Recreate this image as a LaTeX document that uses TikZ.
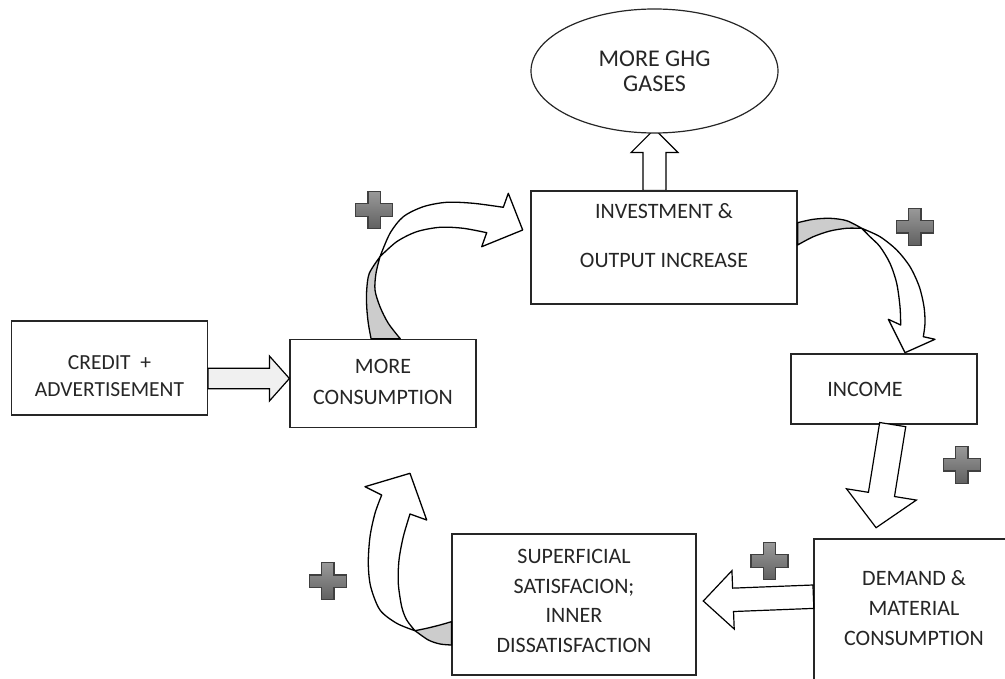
\documentclass[tikz,border=0pt]{standalone}
\usepackage{fontspec}
\setmainfont{Carlito}
\usetikzlibrary{calc, shapes.geometric}
\pgfdeclarelayer{background}
\pgfsetlayers{background,main}

\newcommand{\boxfont}{\fontsize{22}{28}\selectfont}

% straight block arrow: [style] {from} {to} {shaft half width} {head half width} {head length}
\newcommand{\blockarrow}[6][]{%
  \coordinate (ba-base) at ($(#3)!#6!(#2)$);
  \filldraw[blk, #1]
    ($(#2)!#4!90:(#3)$) -- ($(ba-base)!#4!90:(#3)$) -- ($(ba-base)!#5!90:(#3)$) -- (#3)
    -- ($(ba-base)!#5!-90:(#3)$) -- ($(ba-base)!#4!-90:(#3)$) -- ($(#2)!#4!-90:(#3)$) -- cycle;
}

\tikzset{
  % Plain box (its text comes in as a centred label)
  box/.style={
    draw=black!85, line width=1.2pt, fill=white, inner sep=0pt
  },
  % Oval box
  oval/.style={
    ellipse, draw=black!85, line width=1.2pt, fill=white, inner sep=0pt
  },
  % Text inside the boxes
  boxtext/.style={
    align=center, inner sep=0pt, text=black!85, font=\boxfont
  },
  % Straight block arrow
  blk/.style={
    draw=black, line width=1.2pt, fill=white, line join=miter
  },
  % Curved ribbon arrow, front side
  ribbon/.style={
    draw=black, line width=1.3pt, fill=white, line join=round
  },
  % Curved ribbon arrow, twisted back side
  ribbonback/.style={
    ribbon, fill=black!20
  },
  % Grey plus mark
  plusmark/.style={
    draw=black!75, line width=1.1pt, top color=black!40, bottom color=black!62
  },
  plus/.pic={
    \draw[plusmark] (-6.3,-18.5) -- (6.3,-18.5) -- (6.3,-6.3) -- (18.5,-6.3)
      -- (18.5,6.3) -- (6.3,6.3) -- (6.3,18.5) -- (-6.3,18.5) -- (-6.3,6.3)
      -- (-18.5,6.3) -- (-18.5,-6.3) -- (-6.3,-6.3) -- cycle;
  }
}

\begin{document}
\begin{tikzpicture}[x=1pt, y=-1pt]

\useasboundingbox (0,0) rectangle (1005,679);
\clip (0,0) rectangle (1005,679);

% ============================================================
% BOXES
% ============================================================
\node[oval, minimum width=247, minimum height=124,
  label={[boxtext, font={\fontsize{24}{25}\selectfont}]center:{MORE GHG\\GASES}}]
  (ghg) at (654.5,71) {};

\node[box, minimum width=266, minimum height=113,
  label={[boxtext, yshift=12pt, font={\fontsize{22}{48.5}\selectfont}]center:{INVESTMENT \&\\OUTPUT INCREASE}}]
  (invest) at (664,247.5) {};

\node[box, minimum width=196, minimum height=94,
  label={[boxtext, yshift=-8pt, font={\fontsize{21.5}{26.5}\selectfont}]center:{CREDIT\ \ +\\ADVERTISEMENT}}]
  (credit) at (109.5,368) {};

\node[box, minimum width=186, minimum height=88,
  label={[boxtext, yshift=1.5pt, font={\fontsize{22}{31}\selectfont}]center:{MORE\\CONSUMPTION}}]
  (cons) at (383,383.5) {};

\node[box, minimum width=186, minimum height=70,
  label={[boxtext, xshift=-19pt]center:{INCOME}}]
  (income) at (884,389) {};

\node[box, minimum width=200, minimum height=142,
  label={[boxtext, yshift=1.5pt, font={\fontsize{22}{30}\selectfont}]center:{DEMAND \&\\MATERIAL\\CONSUMPTION}}]
  (demand) at (914,610) {};

\node[box, minimum width=244, minimum height=141,
  label={[boxtext, yshift=3.5pt, font={\fontsize{22}{29.5}\selectfont}]center:{SUPERFICIAL\\SATISFACION;\\INNER\\DISSATISFACTION}}]
  (satis) at (574,604.5) {};

% ============================================================
% STRAIGHT BLOCK ARROWS
% ============================================================

% investment up into the oval (tip hidden behind the oval)
\coordinate (up-from) at (ghg.center |- invest.north);
\coordinate (up-to)   at ($(ghg.south)+(0,-4.5)$);
\begin{pgfonlayer}{background}
\blockarrow{up-from}{up-to}{11.5pt}{23.5pt}{23.5pt}
\end{pgfonlayer}

% credit into consumption
\coordinate (cr-from) at ($(credit.east)+(0,10.5)$);
\coordinate (cr-to)   at ($(cons.west)+(0,-5)$);
\blockarrow[fill=black!6]{cr-from}{cr-to}{10.3pt}{22.5pt}{20pt}

% income down to demand
\coordinate (in-from) at ($(income.south)+(8.7,0)$);
\coordinate (in-to)   at ($(demand.north west)+(62.7,-10.7)$);
\blockarrow{in-from}{in-to}{13.2pt}{35.4pt}{33.7pt}

% demand left to satisfaction
\coordinate (dm-from) at ($(demand.west)+(0,-13.3)$);
\coordinate (dm-to)   at ($(satis.east)+(6.7,-3.5)$);
\blockarrow{dm-from}{dm-to}{11.7pt}{29.2pt}{29.8pt}

% ============================================================
% CURVED RIBBON ARROWS
% ============================================================

% consumption -> investment
\coordinate (c1a) at ($(cons.north west)+(81.7,0)$);
\coordinate (c1b) at ($(cons.north west)+(111,0)$);
\coordinate (c1t) at ($(invest.west)+(-7.7,-17.5)$);
\filldraw[ribbonback] plot[smooth] coordinates {(c1a) (368.3,323.3) (366.7,306.7) (366.7,290) (369.3,273.3) (380,256.7)}
  -- plot[smooth] coordinates {(380,256.7) (376,273.3) (375,290) (380,306.7) (388.3,323.3) (c1b)} -- cycle;
\filldraw[ribbon] plot[smooth] coordinates {(380,256.7) (390,233.3) (403.3,216.7) (423.3,206.7) (446.7,202.3) (473.3,203.3) (503.3,207.3)}
  -- (508.3,193.3) -- (c1t) -- (481.7,246.7)
  -- plot[smooth] coordinates {(486.7,232.7) (463.3,228.3) (440,227.3) (416.7,231.7) (396.7,241.7) (380,256.7)} -- cycle;

% investment -> income
\coordinate (c2a) at ($(invest.east)+(0,-24.8)$);
\coordinate (c2b) at ($(invest.east)+(0,-2.5)$);
\coordinate (c2t) at ($(income.north)+(21,-0.7)$);
\filldraw[ribbonback] plot[smooth] coordinates {(c2a) (813.3,219.3) (830,218.3) (846.7,220.7) (861.7,228.3)}
  -- plot[smooth] coordinates {(861.7,228.3) (846.7,228.3) (830,231) (813.3,236.7) (c2b)} -- cycle;
\filldraw[ribbon] plot[smooth] coordinates {(861.7,228.3) (880,236.7) (896.7,250) (910,266.7) (919.3,286.7) (924,306.7) (925,323.3) (923.3,336.7)}
  -- (935,339.3) -- (c2t) -- (888.3,319.3)
  -- plot[smooth] coordinates {(900.7,325) (900,306.7) (896.7,283.3) (890,263.3) (880,246.7) (870,236.7) (861.7,228.3)} -- cycle;

% satisfaction -> consumption
\coordinate (c3a) at ($(satis.west)+(0,17.2)$);
\coordinate (c3b) at ($(satis.west)+(0,40.5)$);
\coordinate (c3t) at ($(cons.south)+(27,45.2)$);
\filldraw[ribbonback] plot[smooth] coordinates {(c3a) (440,625) (426.7,628.3) (415,630.7)}
  -- plot[smooth] coordinates {(415,630.7) (428.3,640) (440,644) (c3b)} -- cycle;
\filldraw[ribbon] plot[smooth] coordinates {(415,630.7) (396.7,623.3) (380,610) (370.7,586.7) (368.3,563.3) (370,536.7) (375,513.3) (381.7,495)}
  -- (365,486.7) -- (c3t) -- (426.7,520)
  -- plot[smooth] coordinates {(410,514) (403.3,536.7) (399,560) (398.3,583.3) (401.7,606.7) (406.7,620) (415,630.7)} -- cycle;

% ============================================================
% PLUS MARKS
% ============================================================
\pic at (374.3,210)   {plus};
\pic at (914.7,226.7) {plus};
\pic at (961.7,464.7) {plus};
\pic at (769.5,561.2) {plus};
\pic at (327.7,581.3) {plus};

\end{tikzpicture}
\end{document}
